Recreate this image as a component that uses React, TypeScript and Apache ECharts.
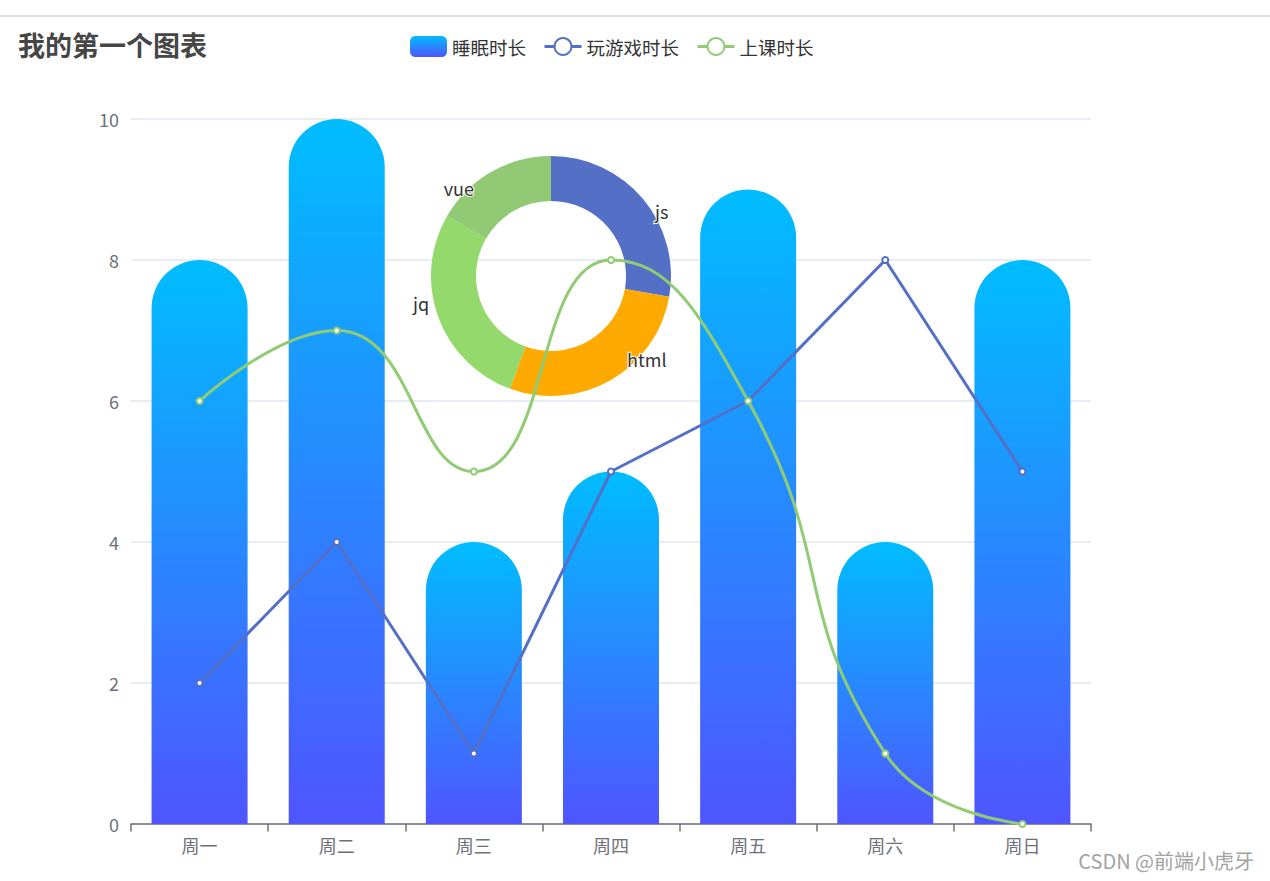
import React, { useEffect, useRef } from "react";
import * as echarts from "echarts";

const categories = ["周一", "周二", "周三", "周四", "周五", "周六", "周日"];
const sleepHours = [8, 10, 4, 5, 9, 4, 8];
const gameHours = [2, 4, 1, 5, 6, 8, 5];
const classHours = [6, 7, 5, 8, 6, 1, 0];
const pieNames = ["js", "html", "jq", "vue"];
const pieValues = [5, 5, 5, 3];
const legendNames = ["睡眠时长", "玩游戏时长", "上课时长"];

// styles (not data)
const pieColors = ["#5470c6", "#ffaa00", "#93d96b", "#91c974"];
const pieLabelOffsets = [
  [7, 12],
  [11, -21],
  [-4, -14],
  [-12, 16],
];

const FONT = "'Microsoft YaHei', 'Noto Sans CJK SC', sans-serif";

export default function App() {
  const ref = useRef<HTMLDivElement>(null);
  useEffect(() => {
    if (!ref.current) return;
    const chart = echarts.init(ref.current, null, { renderer: "svg" });
    const barGradient = new echarts.graphic.LinearGradient(0, 0, 0, 1, [
      { offset: 0, color: "#00bdff" },
      { offset: 1, color: "#4f55ff" },
    ]);
    chart.setOption({
      animation: false,
      textStyle: { fontFamily: FONT },
      title: {
        text: "我的第一个图表",
        left: 18,
        top: 31,
        padding: 0,
        textStyle: { fontSize: 27, fontWeight: "bold", color: "#464646", fontFamily: FONT },
      },
      legend: {
        data: legendNames,
        left: 410,
        top: 36,
        padding: 0,
        itemWidth: 37,
        itemHeight: 21,
        itemGap: 17,
        lineStyle: { width: 3 },
        textStyle: { fontSize: 18.5, color: "#333", fontFamily: FONT },
      },
      grid: { left: 131, right: 179, top: 119, bottom: 57, containLabel: false },
      xAxis: {
        type: "category",
        data: categories,
        axisLine: { lineStyle: { color: "#6E7079", width: 1.5 } },
        axisTick: { show: true, length: 7.5, lineStyle: { width: 1.5, color: "#6E7079" } },
        axisLabel: { fontSize: 18, margin: 12, color: "#6E7079", fontFamily: FONT },
      },
      yAxis: {
        type: "value",
        min: 0,
        max: 10,
        interval: 2,
        axisLabel: { fontSize: 18, margin: 12, color: "#6E7079", fontFamily: FONT },
        splitLine: { lineStyle: { color: "#E0E6F1", width: 1.5 } },
      },
      graphic: [
        { type: "rect", left: 0, top: 15, shape: { width: 1270, height: 2 }, style: { fill: "#dddddd" }, silent: true },
        {
          type: "text",
          right: 16,
          top: 850,
          style: { text: "CSDN @前端小虎牙", fontSize: 20, fill: "#a3a3a3", fontFamily: FONT },
          silent: true,
        },
      ],
      series: [
        {
          name: "睡眠时长",
          type: "bar",
          data: sleepHours,
          barWidth: "70%",
          itemStyle: { color: barGradient, borderRadius: [50, 50, 0, 0] },
        },
        {
          name: "编程",
          type: "pie",
          center: [551, 276],
          radius: [75, 120],
          data: pieNames.map((n, i) => ({
            name: n,
            value: pieValues[i],
            itemStyle: { color: pieColors[i] },
            label: { offset: pieLabelOffsets[i] },
          })),
          label: {
            show: true,
            position: "outside",
            fontSize: 18,
            color: "#333",
            textBorderColor: "#fff",
            textBorderWidth: 2,
            fontFamily: FONT,
          },
          labelLine: { show: false, length: 0, length2: 0 },
        },
        {
          name: "玩游戏时长",
          type: "line",
          data: gameHours,
          symbol: "emptyCircle",
          symbolSize: 6,
          lineStyle: { width: 3, color: "#5470c6" },
          itemStyle: { color: "#5470c6", borderWidth: 2.5 },
        },
        {
          name: "上课时长",
          type: "line",
          data: classHours,
          smooth: true,
          symbol: "emptyCircle",
          symbolSize: 6,
          lineStyle: { width: 3, color: "#91cc75" },
          itemStyle: { color: "#91cc75", borderWidth: 2.5 },
        },
      ],
    });
    return () => chart.dispose();
  }, []);
  return (
    <div
      ref={ref}
      style={{ position: "fixed", left: 0, top: 0, width: 1270, height: 881, background: "#fff" }}
    />
  );
}
